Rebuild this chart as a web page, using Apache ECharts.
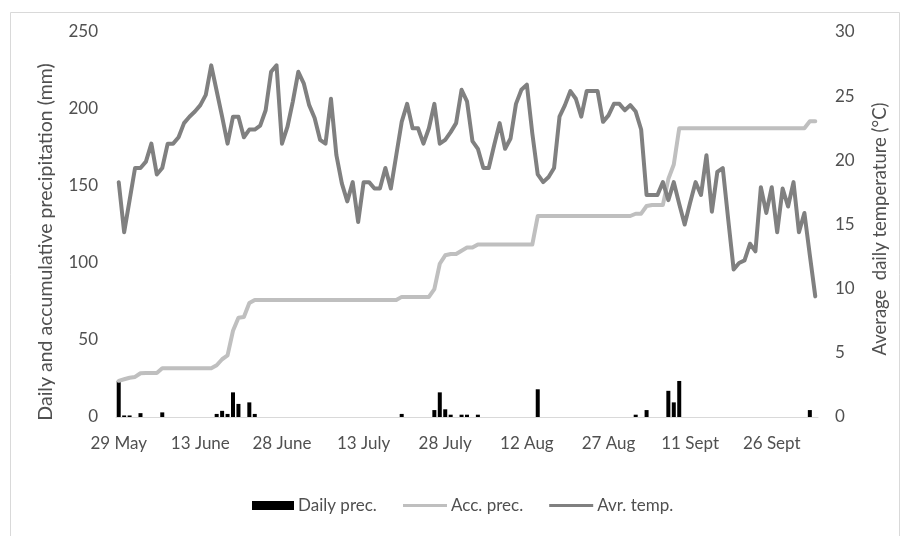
<!DOCTYPE html>
<html>
<head>
<meta charset="utf-8">
<script src="https://cdn.jsdelivr.net/npm/echarts@6/dist/echarts.min.js"></script>
<style>
  html, body { margin: 0; padding: 0; background: #ffffff; }
  #chart { width: 901px; height: 536px; }
</style>
</head>
<body>
<div id="chart"></div>
<script>
// Season runs from 29 May to 4 October, one value per day.
const monthNames = ['May', 'June', 'July', 'Aug', 'Sept', 'Oct'];
const monthFirstDay = [29, 1, 1, 1, 1, 1];
const monthLastDay = [31, 30, 31, 31, 30, 4];

// Daily precipitation (mm)
const dailyPrec = [
  23.5, 1, 1, 0, 2.5, 0, 0, 0, 3, 0,
  0, 0, 0, 0, 0, 0, 0, 0, 2, 4,
  2, 16, 8.5, 0, 9.5, 2, 0, 0, 0, 0,
  0, 0, 0, 0, 0, 0, 0, 0, 0, 0,
  0, 0, 0, 0, 0, 0, 0, 0, 0, 0,
  0, 0, 2, 0, 0, 0, 0, 0, 4.5, 16,
  5, 1.5, 0, 1.5, 1.5, 0, 1.5, 0, 0, 0,
  0, 0, 0, 0, 0, 0, 0, 18, 0, 0,
  0, 0, 0, 0, 0, 0, 0, 0, 0, 0,
  0, 0, 0, 0, 0, 1.5, 0, 4.5, 0, 0,
  0, 17, 9.5, 23.4, 0, 0, 0, 0, 0, 0,
  0, 0, 0, 0, 0, 0, 0, 0, 0, 0,
  0, 0, 0, 0, 0, 0, 0, 4.5, 0
];

// Accumulated precipitation (mm)
const accPrec = [
  23.5, 24.5, 25.5, 26, 28.4, 28.6, 28.6, 28.6, 31.6, 31.6,
  31.6, 31.6, 31.6, 31.6, 31.6, 31.6, 31.6, 31.6, 33.6, 37.5,
  40, 56, 64.5, 65, 74, 76, 76, 76, 76, 76,
  76, 76, 76, 76, 76, 76, 76, 76, 76, 76,
  76, 76, 76, 76, 76, 76, 76, 76, 76, 76,
  76, 76, 78, 78, 78, 78, 78, 78, 83, 99.5,
  105, 105.8, 105.8, 108, 110, 110, 112, 112, 112, 112,
  112, 112, 112, 112, 112, 112, 112, 130.5, 130.5, 130.5,
  130.5, 130.5, 130.5, 130.5, 130.5, 130.5, 130.5, 130.5, 130.5, 130.5,
  130.5, 130.5, 130.5, 130.5, 130.5, 132, 132, 137, 137.7, 137.7,
  137.7, 154.5, 164, 187.5, 187.5, 187.5, 187.5, 187.5, 187.5, 187.5,
  187.5, 187.5, 187.5, 187.5, 187.5, 187.5, 187.5, 187.5, 187.5, 187.5,
  187.5, 187.5, 187.5, 187.5, 187.5, 187.5, 187.5, 192, 192
];

// Average daily temperature (°C)
const avrTemp = [
  18.3, 14.4, 16.9, 19.4, 19.4, 19.9, 21.3, 18.9, 19.4, 21.3,
  21.3, 21.8, 22.9, 23.4, 23.8, 24.3, 25.1, 27.4, 25.4, 23.4,
  21.3, 23.4, 23.4, 21.8, 22.4, 22.4, 22.7, 23.9, 26.9, 27.4,
  21.3, 22.6, 24.6, 26.9, 26.0, 24.3, 23.3, 21.6, 21.3, 24.8,
  20.4, 18.2, 16.8, 18.3, 15.2, 18.3, 18.3, 17.8, 17.8, 19.4,
  17.8, 20.4, 23.0, 24.4, 22.5, 22.5, 21.3, 22.5, 24.4, 21.3,
  21.6, 22.2, 22.9, 25.5, 24.6, 21.5, 20.9, 19.4, 19.4, 21.2,
  22.9, 20.9, 21.7, 24.4, 25.5, 25.9, 22.1, 18.9, 18.3, 18.7,
  19.4, 23.4, 24.3, 25.4, 24.8, 23.4, 25.4, 25.4, 25.4, 23.0,
  23.5, 24.4, 24.4, 23.9, 24.3, 23.8, 22.4, 17.3, 17.3, 17.3,
  18.3, 16.9, 18.3, 16.6, 15.0, 16.7, 18.3, 17.3, 20.4, 16.0,
  19.1, 19.4, 15.4, 11.5, 12.0, 12.2, 13.5, 12.9, 17.9, 15.9,
  17.9, 14.4, 17.8, 16.4, 18.3, 14.4, 15.9, 12.6, 9.4
];

// Axis titles
const leftTitle = 'Daily and accumulative precipitation (mm)';
const rightTitle = 'Average  daily temperature (°C)';

// Day labels, e.g. "29 May", "13 June"
const days = [];
monthNames.forEach((m, i) => {
  for (let d = monthFirstDay[i]; d <= monthLastDay[i]; d++) days.push(d + ' ' + m);
});

const textColor = '#505050';
const fontFamily = 'Lato, "Open Sans", sans-serif';
const legendText = { fontFamily: fontFamily, fontSize: 17, color: textColor, padding: [0, 0, 0, -1] };

const chart = echarts.init(document.getElementById('chart'), null, { renderer: 'canvas' });
chart.setOption({
  animation: false,
  backgroundColor: '#ffffff',
  textStyle: { fontFamily: fontFamily, color: textColor },
  graphic: [{
    type: 'rect',
    shape: { x: 10.5, y: 12.5, width: 889, height: 540 },
    style: { fill: 'none', stroke: '#d9d9d9', lineWidth: 1 },
    silent: true,
    z: -10
  }, {
    type: 'text',
    x: 46, y: 242,
    rotation: Math.PI / 2,
    silent: true,
    style: {
      text: leftTitle, fill: textColor, font: '19.5px ' + fontFamily,
      align: 'center', verticalAlign: 'middle'
    }
  }, {
    type: 'text',
    x: 880, y: 229,
    rotation: Math.PI / 2,
    silent: true,
    style: {
      text: rightTitle, fill: textColor, font: '18.5px ' + fontFamily,
      align: 'center', verticalAlign: 'middle'
    }
  }],
  grid: { left: 116, right: 83, top: 32, bottom: 119 },
  legend: [{
    data: ['Daily prec.'],
    left: 252, top: 497, padding: 0,
    itemWidth: 42, itemHeight: 9, itemGap: 26,
    icon: 'rect',
    textStyle: legendText
  }, {
    data: ['Acc. prec.', 'Avr. temp.'],
    left: 403, top: 497, padding: 0,
    itemWidth: 44, itemHeight: 3, itemGap: 26,
    icon: 'rect',
    textStyle: legendText
  }],
  xAxis: {
    type: 'category',
    data: days,
    boundaryGap: true,
    axisLine: { lineStyle: { color: '#d9d9d9', width: 1 } },
    axisTick: { interval: 14, length: 5, lineStyle: { color: '#d9d9d9' } },
    axisLabel: { interval: 14, margin: 18, fontSize: 17, color: textColor, fontFamily: fontFamily },
    splitLine: { show: false }
  },
  yAxis: [{
    type: 'value',
    min: 0, max: 250, interval: 50,
    axisLine: { show: false }, axisTick: { show: false },
    axisLabel: { margin: 18, fontSize: 17, color: textColor, fontFamily: fontFamily },
    splitLine: { show: false }
  }, {
    type: 'value',
    min: 0, max: 30, interval: 5,
    axisLine: { show: false }, axisTick: { show: false },
    axisLabel: { margin: 17, fontSize: 17, color: textColor, fontFamily: fontFamily },
    splitLine: { show: false }
  }],
  series: [{
    name: 'Daily prec.',
    type: 'bar',
    yAxisIndex: 0,
    data: dailyPrec,
    barWidth: 4,
    itemStyle: { color: '#000000' }
  }, {
    name: 'Acc. prec.',
    type: 'line',
    yAxisIndex: 0,
    data: accPrec,
    symbol: 'none',
    itemStyle: { color: '#bfbfbf' },
    lineStyle: { color: '#bfbfbf', width: 4, join: 'round', cap: 'round' }
  }, {
    name: 'Avr. temp.',
    type: 'line',
    yAxisIndex: 1,
    data: avrTemp,
    symbol: 'none',
    itemStyle: { color: '#808080' },
    lineStyle: { color: '#808080', width: 4, join: 'round', cap: 'round' }
  }]
});
</script>
</body>
</html>
